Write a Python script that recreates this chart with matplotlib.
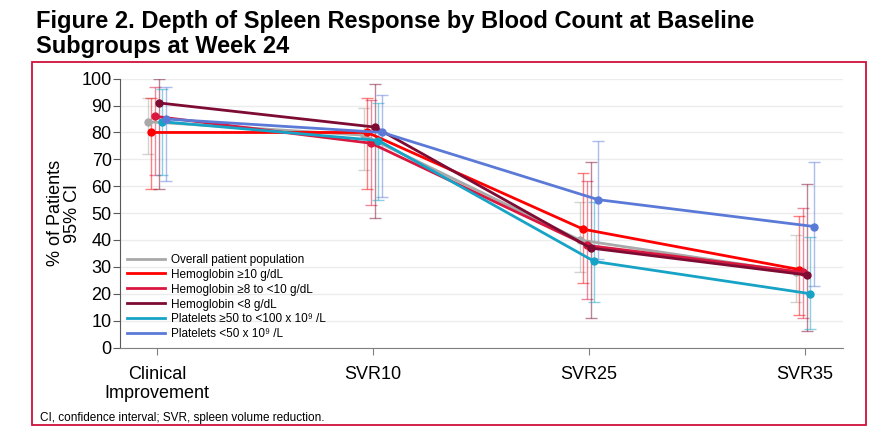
import matplotlib
matplotlib.use("Agg")
import matplotlib.pyplot as plt
import numpy as np
from matplotlib.patches import Rectangle
from matplotlib.lines import Line2D

plt.rcParams['font.family'] = ['Liberation Sans', 'DejaVu Sans']

categories = ["Clinical\nImprovement", "SVR10", "SVR25", "SVR35"]

# % of patients with 95% CI (lower, upper)
overall = [84, 79, 40, 28]
overall_lo = [72, 66, 28, 17]
overall_hi = [93, 89, 54, 42]

hgb_10 = [80, 80, 44, 29]
hgb_10_lo = [59, 59, 24, 12]
hgb_10_hi = [93, 93, 65, 49]

hgb_8_10 = [86, 76, 38, 28]
hgb_8_10_lo = [64, 53, 18, 11]
hgb_8_10_hi = [97, 92, 62, 52]

hgb_8 = [91, 82, 37, 27]
hgb_8_lo = [59, 48, 11, 6]
hgb_8_hi = [100, 98, 69, 61]

plt_50_100 = [84, 77, 32, 20]
plt_50_100_lo = [64, 55, 17, 7]
plt_50_100_hi = [96, 91, 54, 41]

plt_50 = [85, 80, 55, 45]
plt_50_lo = [62, 56, 33, 23]
plt_50_hi = [97, 94, 77, 69]

series = [
    ("Overall patient population", overall, overall_lo, overall_hi, "#a9a9a9"),
    ("Hemoglobin \u226510 g/dL", hgb_10, hgb_10_lo, hgb_10_hi, "#ff0000"),
    ("Hemoglobin \u22658 to <10 g/dL", hgb_8_10, hgb_8_10_lo, hgb_8_10_hi, "#d9173f"),
    ("Hemoglobin <8 g/dL", hgb_8, hgb_8_lo, hgb_8_hi, "#7d0b33"),
    ("Platelets \u226550 to <100 x 10\u2079 /L", plt_50_100, plt_50_100_lo, plt_50_100_hi, "#17a3c6"),
    ("Platelets <50 x 10\u2079 /L", plt_50, plt_50_lo, plt_50_hi, "#5b7ad8"),
]

fig = plt.figure(figsize=(8.92, 4.38), dpi=100)
ax = fig.add_axes([0.1345, 0.2066, 0.8105, 0.6137])

x = np.arange(len(categories))
step = 0.0172
handles = []
for i, (name, vals, lo, hi, col) in enumerate(series):
    xs = x + (i - 2.5) * step
    vals = np.array(vals)
    err = [vals - np.array(lo), np.array(hi) - vals]
    ax.errorbar(xs, vals, yerr=err, fmt="none", ecolor=col, alpha=0.5,
                elinewidth=1.0, capsize=4, capthick=1.0, zorder=2)
    ax.plot(xs, vals, color=col, lw=2.0, marker="o", ms=5, zorder=3)
    handles.append(Line2D([], [], color=col, lw=2.0, label=name))

ax.set_ylim(0, 100)
ax.set_xlim(-0.171, 3.176)
ax.set_yticks(range(0, 101, 10))
ax.set_xticks(x)
ax.set_xticklabels(categories, fontsize=13)
ax.tick_params(axis="y", labelsize=13, length=5, color="#595959", pad=1)
ax.tick_params(axis="x", length=5, color="#808080", pad=8)
ax.grid(axis="y", color="#ececec", lw=1)
ax.set_axisbelow(True)
for s in ["top", "right"]:
    ax.spines[s].set_visible(False)
ax.spines["left"].set_color("#595959")
ax.spines["bottom"].set_color("#808080")

ax.set_ylabel("% of Patients\n95% CI", fontsize=13, labelpad=0, linespacing=1.05)

ax.legend(handles=handles, loc="lower left", frameon=False, fontsize=8.5, handlelength=3.2,
          labelspacing=0.25, borderaxespad=0.2, handletextpad=0.5)

fig.text(0.04, 0.937, "Figure 2. Depth of Spleen Response by Blood Count at Baseline",
         fontsize=17, fontweight="bold")
fig.text(0.04, 0.879, "Subgroups at Week 24", fontsize=17, fontweight="bold")
fig.text(0.045, 0.038, "CI, confidence interval; SVR, spleen volume reduction.", fontsize=8.5)

fig.patches.append(Rectangle((32 / 892, 1 - 425 / 438), (866 - 32) / 892, (425 - 62) / 438,
                             transform=fig.transFigure, fill=False,
                             edgecolor="#d0103a", lw=1.3))

fig.savefig("out.png", dpi=100)
